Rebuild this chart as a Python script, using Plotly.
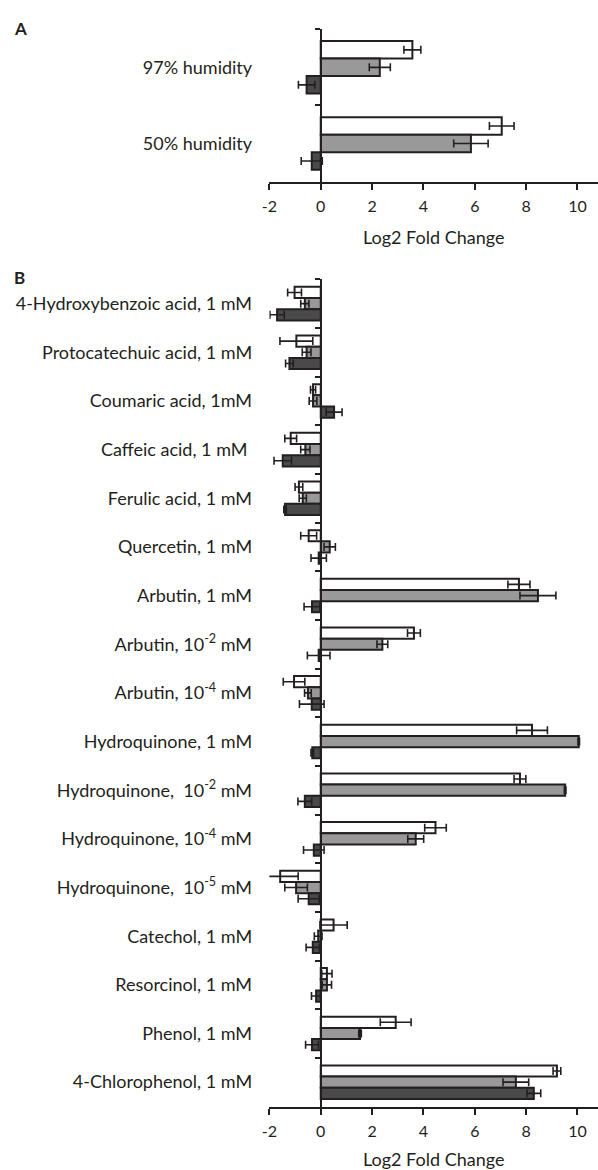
import plotly.graph_objects as go

# ---------------- Panel A data ----------------
cats_a = ["97% humidity", "50% humidity"]
a_white = [3.57, 7.05]
a_white_err = [0.33, 0.48]
a_gray = [2.30, 5.85]
a_gray_err = [0.41, 0.67]
a_dark = [-0.55, -0.35]
a_dark_err = [0.32, 0.41]

# ---------------- Panel B data ----------------
cats_b = [
    "4-Hydroxybenzoic acid, 1 mM",
    "Protocatechuic acid, 1 mM",
    "Coumaric acid, 1mM",
    "Caffeic acid, 1 mM ",
    "Ferulic acid, 1 mM",
    "Quercetin, 1 mM",
    "Arbutin, 1 mM",
    "Arbutin, 10<sup>-2</sup> mM",
    "Arbutin, 10<sup>-4</sup> mM",
    "Hydroquinone, 1 mM",
    "Hydroquinone,  10<sup>-2</sup> mM",
    "Hydroquinone, 10<sup>-4</sup> mM",
    "Hydroquinone,  10<sup>-5</sup> mM",
    "Catechol, 1 mM",
    "Resorcinol, 1 mM",
    "Phenol, 1 mM",
    "4-Chlorophenol, 1 mM",
]
b_white = [-1.02, -0.95, -0.30, -1.17, -0.85, -0.47, 7.72, 3.63, -1.04, 8.23, 7.76, 4.47, -1.58, 0.50, 0.24, 2.92, 9.20]
b_white_err = [0.27, 0.64, 0.10, 0.23, 0.15, 0.31, 0.43, 0.25, 0.42, 0.60, 0.23, 0.42, 0.70, 0.53, 0.20, 0.60, 0.15]
b_gray = [-0.62, -0.55, -0.30, -0.60, -0.70, 0.35, 8.46, 2.40, -0.50, 10.05, 9.52, 3.70, -0.96, -0.10, 0.24, 1.53, 7.60]
b_gray_err = [0.16, 0.17, 0.15, 0.18, 0.14, 0.22, 0.70, 0.21, 0.13, 0.03, 0.03, 0.31, 0.44, 0.15, 0.18, 0.05, 0.50]
b_dark = [-1.70, -1.22, 0.52, -1.48, -1.39, -0.08, -0.34, -0.08, -0.35, -0.33, -0.62, -0.27, -0.47, -0.31, -0.18, -0.34, 8.30]
b_dark_err = [0.28, 0.15, 0.31, 0.34, 0.05, 0.30, 0.31, 0.44, 0.48, 0.05, 0.27, 0.40, 0.41, 0.26, 0.18, 0.25, 0.27]

x_ticks = [-2, 0, 2, 4, 6, 8, 10]
x_tick_text = ["-2", "0", "2", "4", "6", "8", "10"]

# ---------------- styling ----------------
INK = "#231f20"
FILLS = ["#ffffff", "#999999", "#4a4a4a"]
FONT = "Lato"
W, H = 598, 1170

fig = go.Figure()


def add_series(cats, vals, errs, color, xa, ya):
    fig.add_trace(go.Bar(
        orientation="h", y=cats, x=vals,
        marker=dict(color=color, line=dict(color=INK, width=2)),
        error_x=dict(type="data", array=errs, visible=True, color=INK,
                     thickness=1.6, width=4),
        xaxis=xa, yaxis=ya, showlegend=False,
    ))


for vals, errs, col in zip([a_white, a_gray, a_dark], [a_white_err, a_gray_err, a_dark_err], FILLS):
    add_series(cats_a, vals, errs, col, "x", "y")
for vals, errs, col in zip([b_white, b_gray, b_dark], [b_white_err, b_gray_err, b_dark_err], FILLS):
    add_series(cats_b, vals, errs, col, "x2", "y2")

x_left = 269.4 / W
y_axis_pos = 320.7 / W
xrange = [-2, 10.8]

common_x = dict(range=xrange, domain=[x_left, 1.0], showline=True, linecolor=INK,
                linewidth=2, ticks="outside", ticklen=6, tickwidth=2, tickcolor=INK,
                tickvals=x_ticks, ticktext=x_tick_text, showgrid=False, zeroline=False,
                tickfont=dict(family=FONT, size=16, color=INK), ticklabelstandoff=3,
                title=dict(text="Log2 Fold Change", font=dict(family=FONT, size=18, color=INK), standoff=18),
                automargin=False, fixedrange=True)
common_y = dict(type="category", autorange="reversed", anchor="free", position=y_axis_pos,
                showline=True, linecolor=INK, linewidth=2, ticks="outside", ticklen=5,
                tickwidth=2, tickcolor=INK, tickson="boundaries", showgrid=False,
                tickfont=dict(family=FONT, size=18, color=INK), ticklabelstandoff=64,
                automargin=False, fixedrange=True)

fig.update_layout(
    width=W, height=H,
    margin=dict(l=0, r=0, t=0, b=0),
    paper_bgcolor="white", plot_bgcolor="white",
    barmode="group", bargap=0.31, bargroupgap=0,
    xaxis=dict(common_x, anchor="y"),
    yaxis=dict(common_y, domain=[1 - 181.5 / H, 1 - 29.3 / H]),
    xaxis2=dict(common_x, anchor="y2"),
    yaxis2=dict(common_y, domain=[1 - 1106.5 / H, 1 - 279.3 / H]),
    annotations=[
        dict(text="<b>A</b>", x=12 / W, y=1 - 16 / H, xref="paper", yref="paper",
             xanchor="left", yanchor="top", showarrow=False,
             font=dict(family=FONT, size=17, color=INK)),
        dict(text="<b>B</b>", x=12 / W, y=1 - 265 / H, xref="paper", yref="paper",
             xanchor="left", yanchor="top", showarrow=False,
             font=dict(family=FONT, size=17, color=INK)),
    ],
)

fig.write_html(
    "out.html",
    config={"displayModeBar": False, "staticPlot": True},
    post_script="document.body.style.margin='0';document.body.style.overflow='hidden';",
)
